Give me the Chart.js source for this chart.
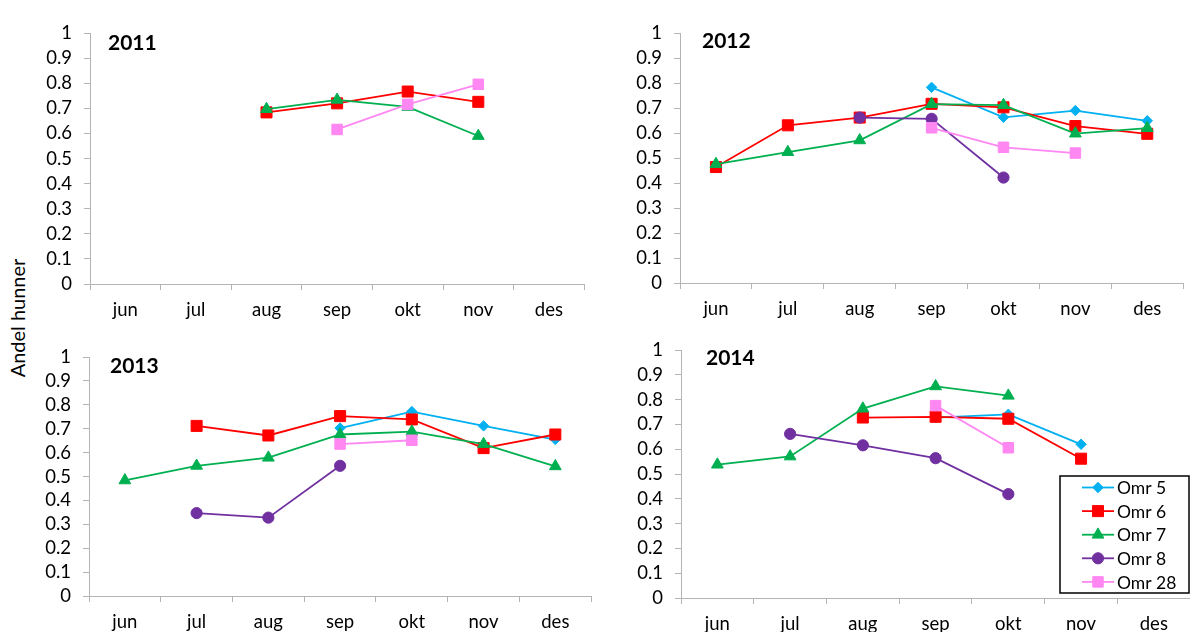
<!DOCTYPE html>
<html><head><meta charset="utf-8">
<script src="https://cdn.jsdelivr.net/npm/chart.js@4.4.1/dist/chart.umd.min.js"></script>
<style>
html,body{margin:0;padding:0;background:#fff;}
body{width:1190px;height:632px;overflow:hidden;position:relative;font-family:Lato,"Open Sans",sans-serif;}
canvas{position:absolute;}
.ttl{position:absolute;font-weight:bold;font-size:21px;line-height:21px;color:#000;}
#ylab{position:absolute;left:17px;top:318px;transform:translate(-50%,-50%) rotate(-90deg);font-size:20px;white-space:nowrap;color:#000;}
</style></head><body>
<div id="ylab">Andel hunner</div>
<script>
// ---- data ----
const months = ['jun','jul','aug','sep','okt','nov','des'];
const seriesNames = ['Omr 5','Omr 6','Omr 7','Omr 8','Omr 28'];
const years = ['2011','2012','2013','2014'];
const yTickValues = [0,0.1,0.2,0.3,0.4,0.5,0.6,0.7,0.8,0.9,1];

const y2011_omr5  = [null,null,null,null,null,null,null];
const y2011_omr6  = [null,null,0.684,0.720,0.767,0.726,null];
const y2011_omr7  = [null,null,0.697,0.734,0.706,0.590,null];
const y2011_omr8  = [null,null,null,null,null,null,null];
const y2011_omr28 = [null,null,null,0.616,0.716,0.796,null];

const y2012_omr5  = [null,null,null,0.783,0.663,0.690,0.649];
const y2012_omr6  = [0.464,0.631,0.662,0.717,0.703,0.628,0.597];
const y2012_omr7  = [0.476,0.524,0.571,0.716,0.712,0.598,0.620];
const y2012_omr8  = [null,null,0.662,0.657,0.422,null,null];
const y2012_omr28 = [null,null,null,0.621,0.543,0.520,null];

const y2013_omr5  = [null,null,null,0.703,0.772,0.712,0.655];
const y2013_omr6  = [null,0.712,0.672,0.753,0.739,0.619,0.676];
const y2013_omr7  = [0.484,0.545,0.579,0.676,0.688,0.636,0.543];
const y2013_omr8  = [null,0.347,0.328,0.545,null,null,null];
const y2013_omr28 = [null,null,null,0.636,0.652,null,null];

const y2014_omr5  = [null,null,null,0.728,0.741,0.620,null];
const y2014_omr6  = [null,null,0.728,0.731,0.723,0.562,null];
const y2014_omr7  = [0.538,0.571,0.764,0.854,0.816,null,null];
const y2014_omr8  = [null,0.662,0.616,0.564,0.419,null,null];
const y2014_omr28 = [null,null,null,0.776,0.606,null,null];

const yearData = [
  [y2011_omr5,y2011_omr6,y2011_omr7,y2011_omr8,y2011_omr28],
  [y2012_omr5,y2012_omr6,y2012_omr7,y2012_omr8,y2012_omr28],
  [y2013_omr5,y2013_omr6,y2013_omr7,y2013_omr8,y2013_omr28],
  [y2014_omr5,y2014_omr6,y2014_omr7,y2014_omr8,y2014_omr28]
];

// ---- styles / layout ----
const seriesStyle = [
  {color:'#00B0F0', pointStyle:'rectRot',  radius:5.2},
  {color:'#FF0000', pointStyle:'rect',     radius:7.8},
  {color:'#00B050', pointStyle:'triangle', radius:6.8},
  {color:'#7030A0', pointStyle:'circle',   radius:5.6},
  {color:'#FF87F2', pointStyle:'rect',     radius:7.4}
];
const panels = [
  {L:90,  T:22,  R:593,  B:284, tx:108, ty:42},
  {L:680, T:22,  R:1192, B:283, tx:702, ty:39.5},
  {L:89,  T:346, R:600,  B:596, tx:110, ty:365},
  {L:681, T:339, R:1199, B:598, tx:706, ty:357}
];
const Y_W = 60, X_H = 44, PT = 12, PR = 0;
const TICK_FONT = 18.5;
const AXIS = '#B4B4B4';
Chart.defaults.font.family = 'Lato, "Open Sans", sans-serif';
Chart.defaults.color = '#000';

const legendPlugin = {
  id: 'omrLegend',
  afterDraw(chart, args, opts) {
    if (!opts || !opts.show) return;
    const ctx = chart.ctx;
    const bx = opts.box.x - opts.ox, by = opts.box.y - opts.oy;
    ctx.save();
    ctx.fillStyle = '#fff';
    ctx.fillRect(bx, by, opts.box.w, opts.box.h);
    ctx.strokeStyle = '#000';
    ctx.lineWidth = 1.5;
    ctx.strokeRect(bx, by, opts.box.w, opts.box.h);
    chart.data.datasets.forEach((ds, i) => {
      const y = by + 11.5 + i * 23.6;
      ctx.strokeStyle = ds.borderColor;
      ctx.lineWidth = ds.borderWidth;
      ctx.beginPath(); ctx.moveTo(bx + 22, y); ctx.lineTo(bx + 54, y); ctx.stroke();
      ctx.fillStyle = ds.pointBackgroundColor;
      ctx.strokeStyle = ds.pointBorderColor;
      ctx.lineWidth = 1;
      Chart.helpers.drawPoint(ctx, {pointStyle: ds.pointStyle, radius: ds.pointRadius, borderWidth: 1, rotation: 0}, bx + 38, y);
      ctx.fillStyle = '#000';
      ctx.font = '17.5px Lato, "Open Sans", sans-serif';
      ctx.textBaseline = 'middle';
      ctx.textAlign = 'left';
      ctx.fillText(ds.label, bx + 57, y + 1);
    });
    ctx.restore();
  }
};

panels.forEach((p, idx) => {
  const w = (p.R - p.L) + Y_W + PR, h = (p.B - p.T) + PT + X_H;
  const ox = p.L - Y_W, oy = p.T - PT;
  const cv = document.createElement('canvas');
  cv.style.left = ox + 'px'; cv.style.top = oy + 'px';
  cv.style.width = w + 'px'; cv.style.height = h + 'px';
  cv.width = w; cv.height = h;
  document.body.appendChild(cv);

  const t = document.createElement('div');
  t.className = 'ttl';
  t.textContent = years[idx];
  t.style.left = p.tx + 'px';
  t.style.top = (p.ty - 11) + 'px';
  document.body.appendChild(t);

  const datasets = yearData[idx].map((vals, si) => ({
    label: seriesNames[si],
    data: vals,
    borderColor: seriesStyle[si].color,
    backgroundColor: seriesStyle[si].color,
    pointBackgroundColor: seriesStyle[si].color,
    pointBorderColor: seriesStyle[si].color,
    pointStyle: seriesStyle[si].pointStyle,
    pointRadius: seriesStyle[si].radius,
    pointBorderWidth: 1,
    borderWidth: 1.8,
    tension: 0,
    spanGaps: false,
    order: 10 - si
  }));

  new Chart(cv, {
    type: 'line',
    data: {labels: months, datasets},
    options: {
      responsive: false,
      animation: false,
      devicePixelRatio: window.devicePixelRatio || 1,
      layout: {padding: {top: PT, right: PR, left: 0, bottom: 0}},
      plugins: {
        legend: {display: false},
        tooltip: {enabled: false},
        omrLegend: idx === 3 ? {show: true, ox, oy, box: {x: 1060, y: 476, w: 129, h: 117}} : {show: false}
      },
      scales: {
        x: {
          type: 'category',
          offset: true,
          grid: {offset: true, drawOnChartArea: false, drawTicks: true, tickLength: 6, color: AXIS, lineWidth: 1},
          border: {color: AXIS, width: 1},
          ticks: {padding: 9, font: {size: TICK_FONT}, color: '#000', maxRotation: 0, autoSkip: false},
          afterFit: s => { s.height = X_H; }
        },
        y: {
          min: 0, max: 1,
          afterBuildTicks: s => { s.ticks = yTickValues.map(v => ({value: v})); },
          grid: {drawOnChartArea: false, drawTicks: true, tickLength: 6, color: AXIS, lineWidth: 1},
          border: {color: AXIS, width: 1},
          ticks: {padding: 12, font: {size: TICK_FONT}, color: '#000', autoSkip: false, callback: v => String(Math.round(v * 10) / 10)},
          afterFit: s => { s.width = Y_W; }
        }
      }
    },
    plugins: [legendPlugin]
  });
});
</script>
</body></html>
